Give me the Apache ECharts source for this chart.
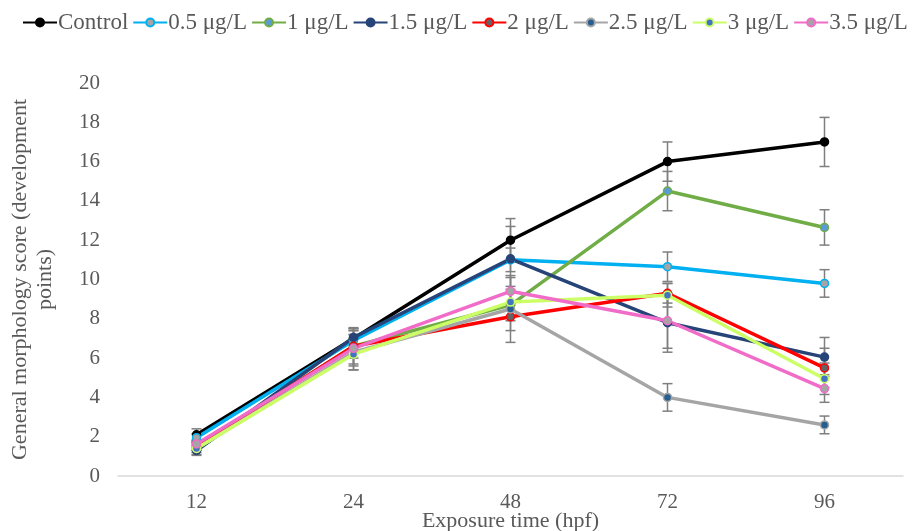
<!DOCTYPE html>
<html>
<head>
<meta charset="utf-8">
<script src="https://cdn.jsdelivr.net/npm/echarts@6/dist/echarts.min.js"></script>
<style>
  html, body { margin: 0; padding: 0; background: #fff; }
  #chart { width: 913px; height: 531px; }
</style>
</head>
<body>
<div id="chart"></div>
<script>
const categories = ['12', '24', '48', '72', '96']
const seriesNames = ['Control', '0.5 μg/L', '1 μg/L', '1.5 μg/L', '2 μg/L', '2.5 μg/L', '3 μg/L', '3.5 μg/L']

const control = [2.1, 7.0, 12.0, 16.0, 17.0]
const dose05 = [1.95, 6.9, 11.0, 10.65, 9.8]
const dose1 = [1.5, 6.6, 8.7, 14.5, 12.65]
const dose15 = [1.3, 7.05, 11.05, 7.8, 6.05]
const dose2 = [1.5, 6.6, 8.1, 9.3, 5.5]
const dose25 = [1.4, 6.3, 8.5, 4.0, 2.6]
const dose3 = [1.4, 6.2, 8.85, 9.2, 4.95]
const dose35 = [1.63, 6.5, 9.4, 7.9, 4.45]

const errControl = [0.3, 0.5, 1.1, 1.0, 1.25]
const err05 = [0.2, 0.5, 0.6, 0.75, 0.7]
const err1 = [0.2, 0.6, 0.8, 1.0, 0.9]
const err15 = [0.25, 0.5, 1.65, 1.5, 1.0]
const err2 = [0.2, 0.9, 0.7, 0.5, 1.0]
const err25 = [0.3, 0.9, 1.7, 0.7, 0.45]
const err3 = [0.2, 0.8, 0.8, 0.6, 0.8]
const err35 = [0.2, 0.9, 0.7, 1.4, 0.7]

const allValues = [control, dose05, dose1, dose15, dose2, dose25, dose3, dose35]
const allErrors = [errControl, err05, err1, err15, err2, err25, err3, err35]

// line colour, marker fill
const lineColors = ['#000000', '#00b0f0', '#70ad47', '#264478', '#ff0000', '#a5a5a5', '#ccff66', '#f06cc8']
const markerFills = ['#000000', '#a5a5a5', '#5b9bd5', '#264478', '#636363', '#255e91', '#4472c4', '#a5a5a5']

const font = 'Liberation Serif'
const textColor = '#595959'

const lineSeries = allValues.map((vals, i) => ({
    name: seriesNames[i],
    type: 'line',
    data: vals,
    z: 3,
    symbol: 'circle',
    symbolSize: 8,
    lineStyle: { color: lineColors[i], width: 3.5 },
    itemStyle: { color: markerFills[i], borderColor: lineColors[i], borderWidth: 1.5 },
    emphasis: { disabled: true }
}))

const errorData = []
allValues.forEach((vals, s) => {
    vals.forEach((v, i) => {
        errorData.push([i, v - allErrors[s][i], v + allErrors[s][i]])
    })
})

const errorSeries = {
    type: 'custom',
    z: 2,
    silent: true,
    data: errorData,
    renderItem: (params, api) => {
        const x = api.value(0)
        const lo = api.coord([x, api.value(1)])
        const hi = api.coord([x, api.value(2)])
        const w = 5
        const style = { stroke: '#7f7f7f', lineWidth: 1.5 }
        return {
            type: 'group',
            children: [
                { type: 'line', shape: { x1: lo[0], y1: lo[1], x2: hi[0], y2: hi[1] }, style },
                { type: 'line', shape: { x1: lo[0] - w, y1: lo[1], x2: lo[0] + w, y2: lo[1] }, style },
                { type: 'line', shape: { x1: hi[0] - w, y1: hi[1], x2: hi[0] + w, y2: hi[1] }, style }
            ]
        }
    }
}

const option = {
    animation: false,
    textStyle: { fontFamily: font },
    legend: {
        data: seriesNames,
        top: 11,
        left: 22,
        width: 892,
        padding: 0,
        itemWidth: 34,
        itemHeight: 10,
        itemGap: 4,
        textStyle: { fontFamily: font, fontSize: 23, color: textColor, padding: [0, 0, 0, -4] }
    },
    grid: { left: 118, right: 10, top: 83, bottom: 55, outerBoundsMode: 'none' },
    xAxis: {
        type: 'category',
        data: categories,
        name: 'Exposure time (hpf)',
        nameLocation: 'middle',
        nameGap: 34,
        nameMoveOverlap: false,
        nameTextStyle: { fontFamily: font, fontSize: 22, color: textColor },
        axisLine: { lineStyle: { color: '#d9d9d9', width: 1.5 } },
        axisTick: { show: false },
        axisLabel: { fontFamily: font, fontSize: 21, color: textColor, margin: 16 }
    },
    yAxis: {
        type: 'value',
        min: 0,
        max: 20,
        interval: 2,
        name: 'General morphology score (development\npoints)',
        nameLocation: 'middle',
        nameGap: 60,
        nameTextStyle: { fontFamily: font, fontSize: 22, color: textColor, lineHeight: 25 },
        axisLine: { show: false },
        axisTick: { show: false },
        splitLine: { show: false },
        axisLabel: { fontFamily: font, fontSize: 21, color: textColor, margin: 18 }
    },
    series: [errorSeries, ...lineSeries]
}

const chart = echarts.init(document.getElementById('chart'))
chart.setOption(option)
</script>
</body>
</html>
